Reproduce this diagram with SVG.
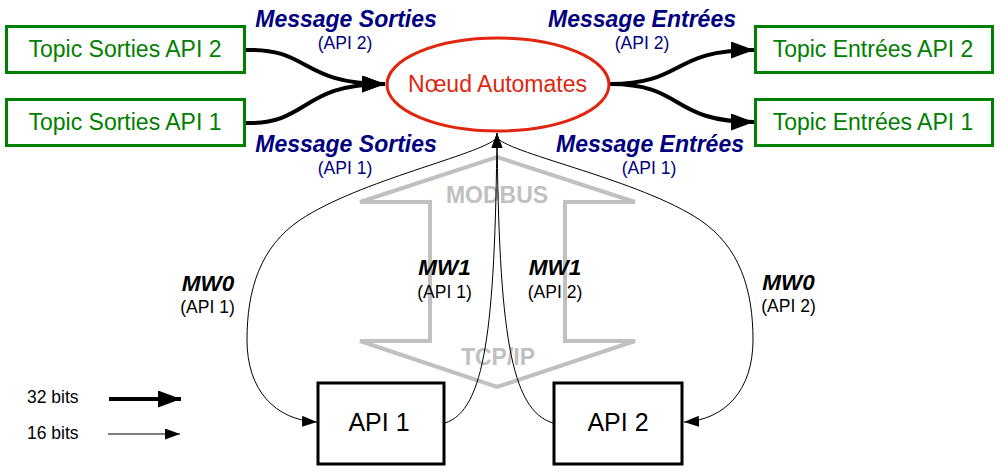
<svg xmlns="http://www.w3.org/2000/svg" width="1001" height="471" viewBox="0 0 1001 471">
<style>
text{font-family:"Liberation Sans",Arial,sans-serif;text-anchor:middle}
.topic rect{fill:#fff;stroke:#008000;stroke-width:3}
.topic text{fill:#008000;font-size:23px}
.msg{fill:#000080;font-size:23px;font-weight:bold;font-style:italic}
.sub{fill:#000080;font-size:17.5px}
.mw{fill:#000;font-size:22.5px;font-weight:bold;font-style:italic}
.mwsub{fill:#000;font-size:17.5px}
.api rect{fill:#fff;stroke:#000;stroke-width:3}
.api text{fill:#000;font-size:25px}
.thick{fill:none;stroke:#000;stroke-width:4}
.thin{fill:none;stroke:#000;stroke-width:1}
.gray{fill:#c0c0c0;font-size:23px;font-weight:bold}
.leg{fill:#000;font-size:17.5px;text-anchor:start}
</style>
<defs>
<marker id="ah" markerUnits="userSpaceOnUse" markerWidth="23" markerHeight="17" viewBox="0 0 23 17" refX="23" refY="8.5" orient="auto"><path d="M0,0 L23,8.5 L0,17 z" fill="#000"/></marker>
<marker id="as" markerUnits="userSpaceOnUse" markerWidth="15" markerHeight="11" viewBox="0 0 15 11" refX="15" refY="5.5" orient="auto"><path d="M0,0 L15,5.5 L0,11 z" fill="#000"/></marker>
</defs>
<rect width="1001" height="471" fill="#fff"/>
<g id="modbus">
<polygon points="497,157 635,202 565,202 565,341 635,341 497,387 360,341 430,341 430,202 360,202" fill="none" stroke="#c0c0c0" stroke-width="4" stroke-linejoin="miter"/>
<text class="gray" x="497" y="203">MODBUS</text>
<text class="gray" x="498" y="365">TCP/IP</text>
</g>
<g id="connectors">
<path class="thick" d="M246,50 C310,48 300,84 385,84" marker-end="url(#ah)"/>
<path class="thick" d="M246,123 C310,124 300,84 385,84" marker-end="url(#ah)"/>
<path class="thick" d="M610,84 C685,84 670,50 754,50" marker-end="url(#ah)"/>
<path class="thick" d="M610,84 C685,84 670,122 754,122" marker-end="url(#ah)"/>
<path class="thin" d="M445,423 C485,410 495,330 497,133" marker-end="url(#as)"/>
<path class="thin" d="M553,423 C510,410 499,330 497,133" marker-end="url(#as)"/>
<path class="thin" d="M497,138 C480,155 360,180 300,220 C260,247 247,290 247,340 C247,390 275,420 317,422" marker-end="url(#as)"/>
<path class="thin" d="M497,138 C514,155 640,180 700,220 C740,247 753,290 753,340 C753,390 725,420 684,422" marker-end="url(#as)"/>
</g>
<g id="topic-sorties-2" class="topic"><rect x="6.5" y="26.5" width="238" height="46"/><text x="125" y="57">Topic Sorties API 2</text></g>
<g id="topic-sorties-1" class="topic"><rect x="6.5" y="99.5" width="238" height="46"/><text x="125" y="130">Topic Sorties API 1</text></g>
<g id="topic-entrees-2" class="topic"><rect x="755.5" y="26.5" width="237" height="46"/><text x="873" y="57">Topic Entrées API 2</text></g>
<g id="topic-entrees-1" class="topic"><rect x="755.5" y="99.5" width="237" height="46"/><text x="873" y="130">Topic Entrées API 1</text></g>
<g id="noeud-automates">
<ellipse cx="498" cy="84.5" rx="111" ry="46.5" fill="#fff" stroke="#e0260f" stroke-width="3"/>
<text x="497.5" y="92" fill="#e0260f" font-size="23">Nœud Automates</text>
</g>
<g id="api1" class="api"><rect x="318" y="383" width="126" height="81"/><text x="379" y="431">API 1</text></g>
<g id="api2" class="api"><rect x="554" y="383" width="128" height="81"/><text x="618" y="431">API 2</text></g>
<g id="labels">
<text class="msg" x="346" y="27">Message Sorties</text>
<text class="sub" x="345" y="49">(API 2)</text>
<text class="msg" x="346" y="152">Message Sorties</text>
<text class="sub" x="345" y="174">(API 1)</text>
<text class="msg" x="642" y="27">Message Entrées</text>
<text class="sub" x="642" y="49">(API 2)</text>
<text class="msg" x="650" y="152">Message Entrées</text>
<text class="sub" x="649" y="174">(API 1)</text>
<text class="mw" x="444.5" y="275">MW1</text>
<text class="mwsub" x="444.5" y="298">(API 1)</text>
<text class="mw" x="555" y="275">MW1</text>
<text class="mwsub" x="555" y="298">(API 2)</text>
<text class="mw" x="208" y="291">MW0</text>
<text class="mwsub" x="207.5" y="313">(API 1)</text>
<text class="mw" x="788.5" y="290">MW0</text>
<text class="mwsub" x="788.5" y="312">(API 2)</text>
</g>
<g id="legend">
<text class="leg" x="27" y="403">32 bits</text>
<path d="M109,399 L181,399" stroke="#000" stroke-width="4" fill="none" marker-end="url(#ah)"/>
<text class="leg" x="27" y="439">16 bits</text>
<path d="M108,434 L180,434" stroke="#000" stroke-width="1" fill="none" marker-end="url(#as)"/>
</g>
</svg>
